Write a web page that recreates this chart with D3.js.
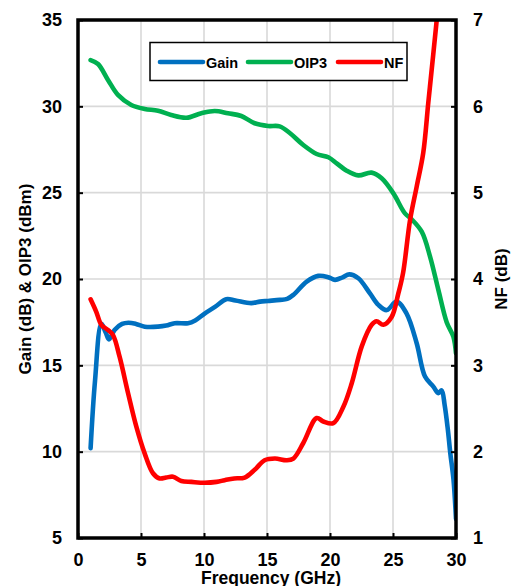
<!DOCTYPE html>
<html>
<head>
<meta charset="utf-8">
<script src="https://cdn.jsdelivr.net/npm/d3@7"></script>
<style>
  html, body { margin: 0; padding: 0; background: #fff; }
  svg { display: block; }
  text { font-family: "Liberation Sans", Arial, sans-serif; font-weight: bold; fill: #000; }
</style>
</head>
<body>
<svg id="chart" width="516" height="586"></svg>
<script>
// Gain (dB) vs frequency (GHz)
const gainFreq = [1, 1.35, 1.85, 2.2, 2.46, 2.9, 3.5, 4.0, 4.6, 5.3, 6.35, 7.0, 7.67, 8.73, 9.3, 10.05, 10.9, 11.77, 12.5, 13.75, 14.44, 15.08, 16.03, 16.6, 17.09, 18.15, 19.07, 19.87, 20.4, 21.0, 21.53, 22.25, 23.17, 23.84, 24.5, 25.29, 26.08, 26.88, 27.54, 28.2, 28.6, 28.86, 29.1, 29.35, 29.55, 29.8, 30];
const gainValues = [10.2, 14.1, 17.4, 16.9, 16.5, 17.05, 17.4, 17.47, 17.4, 17.24, 17.24, 17.3, 17.44, 17.44, 17.6, 18.0, 18.4, 18.83, 18.75, 18.6, 18.69, 18.73, 18.79, 18.85, 19.08, 19.85, 20.18, 20.1, 19.95, 20.1, 20.27, 20.04, 19.17, 18.5, 18.2, 18.69, 18.0, 16.28, 14.35, 13.77, 13.39, 13.55, 12.7, 11.3, 9.9, 8.4, 6.1];

// OIP3 (dBm) vs frequency (GHz)
const oip3Freq = [1, 1.59, 2.38, 3.17, 4.23, 5.29, 6.35, 7.4, 8.6, 9.79, 10.85, 11.9, 12.96, 14.02, 15.08, 16.0, 16.83, 17.88, 18.94, 19.87, 20.53, 21.32, 22.25, 23.3, 24.1, 25.03, 25.95, 26.48, 27.28, 27.94, 28.6, 29.26, 29.79, 30];
const oip3Values = [32.68, 32.45, 31.53, 30.66, 30.08, 29.85, 29.75, 29.5, 29.34, 29.6, 29.73, 29.6, 29.44, 29.02, 28.86, 28.84, 28.44, 27.76, 27.24, 27.05, 26.7, 26.27, 26.0, 26.16, 25.83, 24.96, 23.8, 23.46, 22.74, 21.3, 19.37, 17.5, 16.66, 15.7];

// Noise figure (dB) vs frequency (GHz), right axis
const nfFreq = [1, 1.45, 1.85, 2.38, 2.78, 3.3, 3.97, 4.63, 5.29, 5.95, 6.48, 7.0, 7.54, 8.2, 9.0, 10.05, 11.0, 11.64, 12.4, 13.23, 14.02, 14.81, 15.63, 16.56, 17.09, 17.88, 18.94, 19.47, 20.26, 21.06, 21.72, 22.52, 23.31, 23.7, 24.23, 24.89, 25.42, 25.8, 26.35, 26.88, 27.4, 27.8, 28.2, 28.47, 28.7];
const nfValues = [3.765, 3.62, 3.47, 3.41, 3.35, 3.1, 2.68, 2.29, 1.98, 1.75, 1.69, 1.70, 1.71, 1.66, 1.65, 1.64, 1.65, 1.67, 1.69, 1.70, 1.79, 1.90, 1.92, 1.90, 1.92, 2.10, 2.39, 2.35, 2.33, 2.52, 2.79, 3.22, 3.47, 3.51, 3.47, 3.56, 3.83, 4.07, 4.68, 5.07, 5.46, 6.04, 6.61, 7.0, 7.35];

// Axis ticks
const xTicks = [0, 5, 10, 15, 20, 25, 30];
const leftTicks = [5, 10, 15, 20, 25, 30, 35];
const rightTicks = [1, 2, 3, 4, 5, 6, 7];

const seriesNames = ["Gain", "OIP3", "NF"];
const seriesColors = ["#0070C0", "#00B050", "#FF0000"];

const svg = d3.select("#chart");
const plot = { left: 78, right: 456, top: 20, bottom: 538 };

const x = d3.scaleLinear().domain([0, 30]).range([plot.left, plot.right]);
const yL = d3.scaleLinear().domain([5, 35]).range([plot.bottom, plot.top]);
const yR = d3.scaleLinear().domain([1, 7]).range([plot.bottom, plot.top]);

svg.append("defs").append("clipPath").attr("id", "plotClip")
  .append("rect")
  .attr("x", plot.left).attr("y", plot.top)
  .attr("width", plot.right - plot.left).attr("height", plot.bottom - plot.top);

// Gridlines
const grid = svg.append("g").attr("stroke", "#d9d9d9").attr("stroke-width", 1.6);
grid.selectAll("line.v").data(xTicks.slice(1, -1)).join("line")
  .attr("x1", d => x(d)).attr("x2", d => x(d))
  .attr("y1", plot.top).attr("y2", plot.bottom);
grid.selectAll("line.h").data(leftTicks.slice(1, -1)).join("line")
  .attr("x1", plot.left).attr("x2", plot.right)
  .attr("y1", d => yL(d)).attr("y2", d => yL(d));

// Curves
const lineGen = (ys) => d3.line()
  .x(d => x(d[0])).y(d => ys(d[1]))
  .curve(d3.curveCatmullRom.alpha(0.5));

const curves = svg.append("g").attr("clip-path", "url(#plotClip)")
  .attr("fill", "none").attr("stroke-width", 4.6)
  .attr("stroke-linejoin", "round").attr("stroke-linecap", "round");

curves.append("path")
  .attr("d", lineGen(yL)(d3.zip(gainFreq, gainValues)))
  .attr("stroke", seriesColors[0]);
curves.append("path")
  .attr("d", lineGen(yL)(d3.zip(oip3Freq, oip3Values)))
  .attr("stroke", seriesColors[1]);
curves.append("path")
  .attr("d", lineGen(yR)(d3.zip(nfFreq, nfValues)))
  .attr("stroke", seriesColors[2]);

// Axes (inward ticks, bold labels)
const axisStyle = (g) => {
  g.select(".domain").remove();
  g.selectAll(".tick line").attr("stroke", "#000").attr("stroke-width", 2);
  g.selectAll(".tick text").attr("font-size", 18).attr("font-weight", "bold")
    .attr("font-family", "'Liberation Sans', Arial, sans-serif").attr("fill", "#000");
};

svg.append("g").attr("transform", `translate(0,${plot.bottom})`)
  .call(d3.axisBottom(x).tickValues(xTicks).tickSize(-5).tickPadding(15).tickFormat(d3.format("d")))
  .call(axisStyle);
svg.append("g").attr("transform", `translate(${plot.left},0)`)
  .call(d3.axisLeft(yL).tickValues(leftTicks).tickSize(-5).tickPadding(16).tickFormat(d3.format("d")))
  .call(axisStyle);
svg.append("g").attr("transform", `translate(${plot.right},0)`)
  .call(d3.axisRight(yR).tickValues(rightTicks).tickSize(-5).tickPadding(17).tickFormat(d3.format("d")))
  .call(axisStyle);

// Plot frame
svg.append("rect")
  .attr("x", plot.left).attr("y", plot.top)
  .attr("width", plot.right - plot.left).attr("height", plot.bottom - plot.top)
  .attr("fill", "none").attr("stroke", "#000").attr("stroke-width", 3.5);

// Axis titles
svg.append("text")
  .attr("x", 271).attr("y", 584)
  .attr("text-anchor", "middle").attr("font-size", 17.5)
  .text("Frequency (GHz)");
svg.append("text")
  .attr("transform", `translate(31,${(plot.top + plot.bottom) / 2}) rotate(-90)`)
  .attr("text-anchor", "middle").attr("font-size", 17)
  .text("Gain (dB) & OIP3 (dBm)");
svg.append("text")
  .attr("transform", `translate(507,${(plot.top + plot.bottom) / 2}) rotate(-90)`)
  .attr("text-anchor", "middle").attr("font-size", 17)
  .text("NF (dB)");

// Legend
const legend = svg.append("g");
legend.append("rect")
  .attr("x", 150).attr("y", 42.5).attr("width", 257).attr("height", 38)
  .attr("fill", "#fff").attr("stroke", "#000").attr("stroke-width", 1.5);
const legendX = [160, 248, 338];
seriesNames.forEach((name, i) => {
  legend.append("line")
    .attr("x1", legendX[i]).attr("x2", legendX[i] + 43)
    .attr("y1", 62).attr("y2", 62)
    .attr("stroke", seriesColors[i]).attr("stroke-width", 4.6)
    .attr("stroke-linecap", "round");
  legend.append("text")
    .attr("x", legendX[i] + 46).attr("y", 67.5)
    .attr("font-size", 14.5)
    .text(name);
});
</script>
</body>
</html>
